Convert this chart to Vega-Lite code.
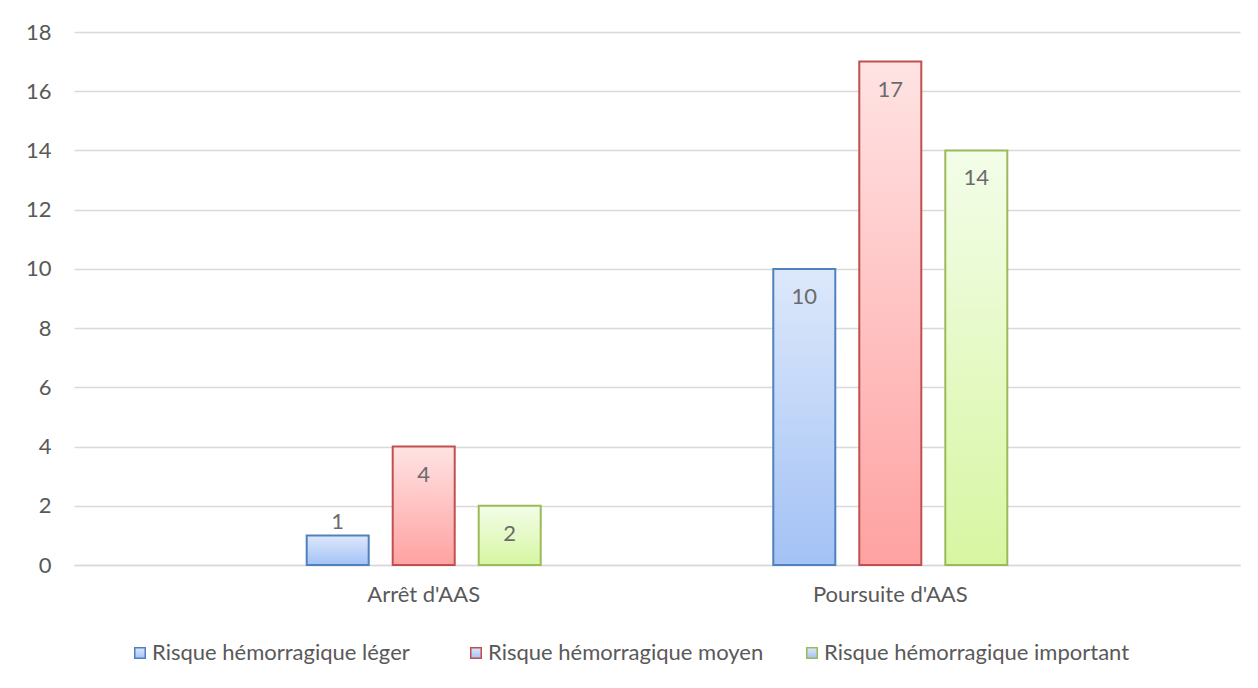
{
  "$schema": "https://vega.github.io/schema/vega-lite/v6.json",
  "autosize": "none",
  "width": 1166,
  "height": 533,
  "padding": {"left": 74, "top": 32, "right": 18, "bottom": 123},
  "background": "white",
  "config": {
    "view": {"stroke": null},
    "font": "Lato",
    "axis": {"labelFont": "Lato", "labelColor": "#595959", "labelFontSize": 22}
  },
  "data": {
    "values": [
      {"groupe": "Arrêt d'AAS", "risque": "Risque hémorragique léger", "n": 1},
      {"groupe": "Arrêt d'AAS", "risque": "Risque hémorragique moyen", "n": 4},
      {"groupe": "Arrêt d'AAS", "risque": "Risque hémorragique important", "n": 2},
      {"groupe": "Poursuite d'AAS", "risque": "Risque hémorragique léger", "n": 10},
      {"groupe": "Poursuite d'AAS", "risque": "Risque hémorragique moyen", "n": 17},
      {"groupe": "Poursuite d'AAS", "risque": "Risque hémorragique important", "n": 14}
    ]
  },
  "encoding": {
    "x": {
      "field": "groupe", "type": "nominal", "sort": ["Arrêt d'AAS", "Poursuite d'AAS"],
      "scale": {"paddingInner": 0.447, "paddingOuter": 0.473},
      "axis": {"title": null, "labelAngle": 0, "ticks": false, "tickSize": 0, "labelPadding": 19,
               "domainColor": "#d9d9d9", "domainWidth": 1.5, "grid": false}
    },
    "xOffset": {
      "field": "risque", "type": "nominal",
      "sort": ["Risque hémorragique léger", "Risque hémorragique moyen", "Risque hémorragique important"],
      "scale": {"paddingInner": 0.279, "paddingOuter": 0.1395}
    },
    "y": {
      "field": "n", "type": "quantitative",
      "scale": {"domain": [0, 18], "nice": false},
      "axis": {"title": null, "values": [0, 2, 4, 6, 8, 10, 12, 14, 16, 18], "domain": false, "ticks": false,
               "labelPadding": 23, "gridColor": "#d9d9d9", "gridWidth": 1.5}
    }
  },
  "layer": [
    {
      "transform": [{"filter": "datum.risque == 'Risque hémorragique léger'"}],
      "mark": {"type": "bar", "strokeWidth": 2,
        "fill": {"gradient": "linear", "x1": 0, "y1": 0, "x2": 0, "y2": 1,
                 "stops": [{"offset": 0, "color": "#dde8fb"}, {"offset": 1, "color": "#a3c2f5"}]}},
      "encoding": {
        "stroke": {"field": "risque", "type": "nominal",
          "scale": {"domain": ["Risque hémorragique léger", "Risque hémorragique moyen", "Risque hémorragique important"],
                    "range": ["#4f81bd", "#c0504d", "#9bbb59"]},
          "legend": {
            "title": null, "orient": "none", "direction": "horizontal", "legendX": 55, "legendY": 610,
            "symbolType": "square", "symbolSize": 110, "symbolStrokeWidth": 1.5,
            "labelFont": "Lato", "labelFontSize": 22, "labelColor": "#595959", "labelOffset": 1, "labelLimit": 500,
            "gridAlign": "all", "columnPadding": 7,
            "encode": {"symbols": {"update": {"fill": {"signal": "datum.value == 'Risque hémorragique léger' ? '#c3d7f8' : datum.value == 'Risque hémorragique moyen' ? '#ffc4c4' : '#e6f9cc'"}, "fillOpacity": {"value": 1}}}}
          }
        }
      }
    },
    {
      "transform": [{"filter": "datum.risque == 'Risque hémorragique moyen'"}],
      "mark": {"type": "bar", "strokeWidth": 2,
        "fill": {"gradient": "linear", "x1": 0, "y1": 0, "x2": 0, "y2": 1,
                 "stops": [{"offset": 0, "color": "#ffe3e3"}, {"offset": 1, "color": "#ffa2a2"}]}},
      "encoding": {"stroke": {"field": "risque", "type": "nominal"}}
    },
    {
      "transform": [{"filter": "datum.risque == 'Risque hémorragique important'"}],
      "mark": {"type": "bar", "strokeWidth": 2,
        "fill": {"gradient": "linear", "x1": 0, "y1": 0, "x2": 0, "y2": 1,
                 "stops": [{"offset": 0, "color": "#f3fde9"}, {"offset": 1, "color": "#d7f6a2"}]}},
      "encoding": {"stroke": {"field": "risque", "type": "nominal"}}
    },
    {
      "transform": [{"filter": "datum.n >= 2"}],
      "mark": {"type": "text", "baseline": "middle", "align": "center", "dy": 28, "font": "Lato", "fontSize": 22, "fill": "#6b6b6b"},
      "encoding": {"text": {"field": "n", "type": "quantitative"}}
    },
    {
      "transform": [{"filter": "datum.n < 2"}],
      "mark": {"type": "text", "baseline": "middle", "align": "center", "dy": -13, "font": "Lato", "fontSize": 22, "fill": "#6b6b6b"},
      "encoding": {"text": {"field": "n", "type": "quantitative"}}
    }
  ]
}
